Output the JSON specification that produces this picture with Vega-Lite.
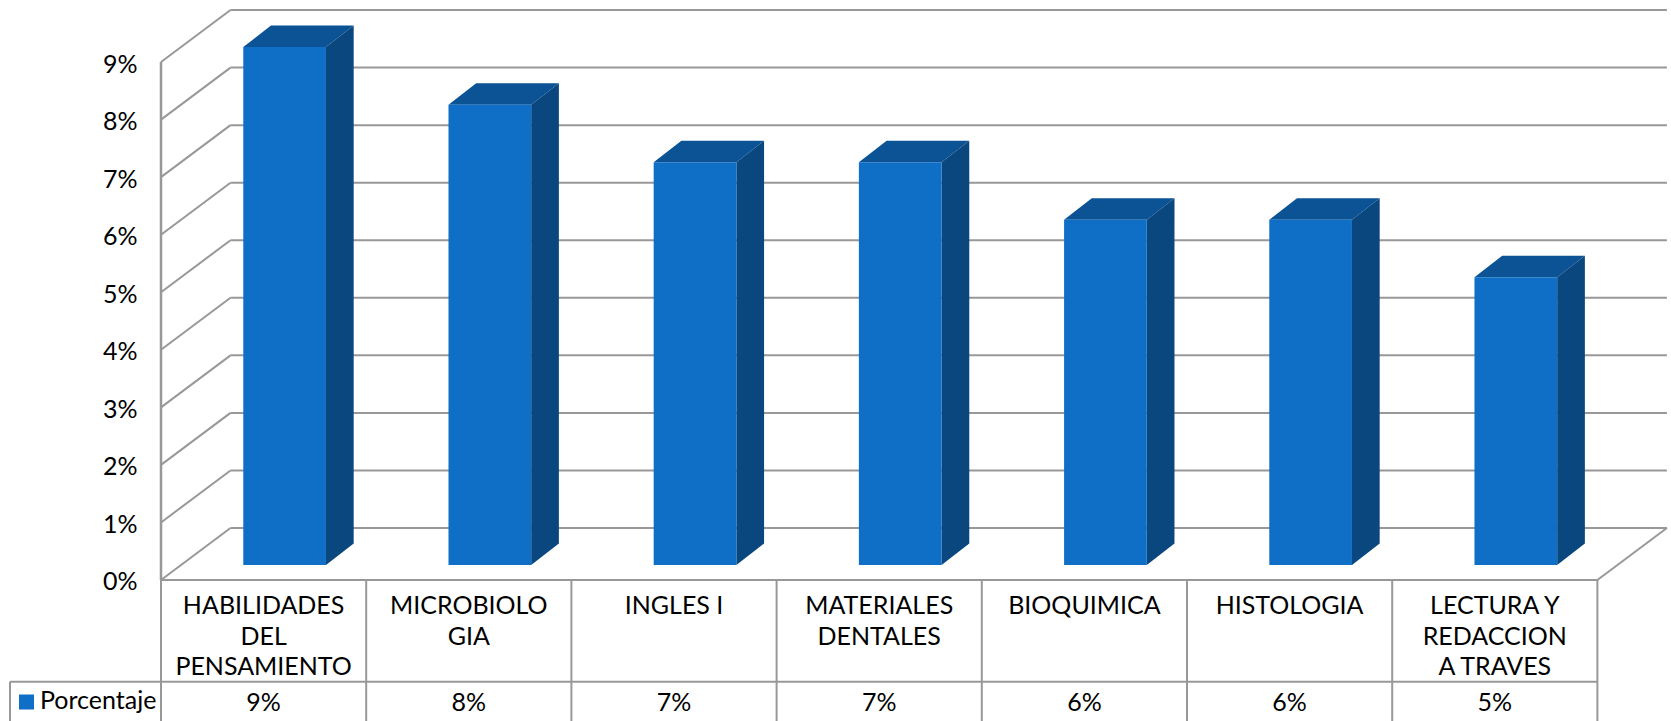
{"$schema":"https://vega.github.io/schema/vega-lite/v6.json","width":1510,"height":721,"autosize":{"type":"none"},"padding":{"left":161,"top":0,"right":0,"bottom":0},"background":"white","config":{"view":{"stroke":null},"font":"Lato"},
"resolve":{"axis":{"y":"independent","x":"independent"}},
"datasets":{"ticks":[{"tick":0},{"tick":0.01},{"tick":0.02},{"tick":0.03},{"tick":0.04},{"tick":0.05},{"tick":0.06},{"tick":0.07},{"tick":0.08},{"tick":0.09}],
"bars":[{"i":0,"categoria":"HABILIDADES\nDEL\nPENSAMIENTO","porcentaje":0.09},{"i":1,"categoria":"MICROBIOLO\nGIA","porcentaje":0.08},{"i":2,"categoria":"INGLES I","porcentaje":0.07},{"i":3,"categoria":"MATERIALES\nDENTALES","porcentaje":0.07},{"i":4,"categoria":"BIOQUIMICA","porcentaje":0.06},{"i":5,"categoria":"HISTOLOGIA","porcentaje":0.06},{"i":6,"categoria":"LECTURA Y\nREDACCION\nA TRAVES","porcentaje":0.05}],
"cols":[{"k":0},{"k":1},{"k":2},{"k":3},{"k":4},{"k":5},{"k":6},{"k":7}]},
"layer":[
{"data":{"name":"ticks"},"transform":[{"calculate":"datum.tick+0.009036","as":"tb"}],"mark":{"type":"rule","color":"#989898","strokeWidth":2},"encoding":{"x":{"datum":0,"type":"quantitative","scale":{"domain":[0,7.3587],"nice":false,"zero":false},"axis":null},"x2":{"datum":0.3387},"y":{"field":"tick","type":"quantitative","scale":{"domain":[-0.0245,0.10078],"nice":false,"zero":false},"axis":{"values":[0,0.01,0.02,0.03,0.04,0.05,0.06,0.07,0.08,0.09],"format":".0%","title":null,"domain":false,"ticks":false,"grid":false,"labelPadding":24,"labelOffset":2,"labelFontSize":25,"labelColor":"#000000","labelFont":"Lato"}},"y2":{"field":"tb"}}},
{"data":{"name":"ticks"},"transform":[{"calculate":"datum.tick+0.009036","as":"tb"}],"mark":{"type":"rule","color":"#989898","strokeWidth":2},"encoding":{"x":{"datum":0.3387,"type":"quantitative","scale":{"domain":[0,7.3587],"nice":false,"zero":false},"axis":null},"x2":{"datum":7.3387},"y":{"field":"tb","type":"quantitative","scale":{"domain":[-0.0245,0.10078],"nice":false,"zero":false},"axis":null}}},
{"data":{"values":[{"a":1}]},"mark":{"type":"rule","color":"#989898","strokeWidth":2.5},"encoding":{"x":{"datum":0,"type":"quantitative","scale":{"domain":[0,7.3587],"nice":false,"zero":false},"axis":null},"y":{"datum":0.09,"type":"quantitative","scale":{"domain":[-0.0245,0.10078],"nice":false,"zero":false},"axis":null},"y2":{"datum":0}}},
{"data":{"name":"cols"},"mark":{"type":"rule","color":"#989898","strokeWidth":2},"encoding":{"x":{"field":"k","type":"quantitative","scale":{"domain":[0,7.3587],"nice":false,"zero":false},"axis":null},"y":{"datum":0,"type":"quantitative","scale":{"domain":[-0.0245,0.10078],"nice":false,"zero":false},"axis":null},"y2":{"datum":-0.0245}}},
{"data":{"values":[{"a":-0.736,"b":7,"v":-0.01767},{"a":0,"b":7,"v":0}]},"mark":{"type":"rule","color":"#989898","strokeWidth":2},"encoding":{"x":{"field":"a","type":"quantitative","scale":{"domain":[0,7.3587],"nice":false,"zero":false},"axis":null},"x2":{"field":"b"},"y":{"field":"v","type":"quantitative","scale":{"domain":[-0.0245,0.10078],"nice":false,"zero":false},"axis":null}}},
{"data":{"values":[{"a":1}]},"mark":{"type":"rule","color":"#989898","strokeWidth":2},"encoding":{"x":{"datum":-0.736,"type":"quantitative","scale":{"domain":[0,7.3587],"nice":false,"zero":false},"axis":null},"y":{"datum":-0.01767,"type":"quantitative","scale":{"domain":[-0.0245,0.10078],"nice":false,"zero":false},"axis":null},"y2":{"datum":-0.0245}}},
{"data":{"values":[{"a":1}]},"mark":{"type":"rule","color":"#989898","strokeWidth":2},"encoding":{"x":{"datum":7,"type":"quantitative","scale":{"domain":[0,7.3587],"nice":false,"zero":false},"axis":null},"x2":{"datum":7.3387},"y":{"datum":0,"type":"quantitative","scale":{"domain":[-0.0245,0.10078],"nice":false,"zero":false},"axis":null},"y2":{"datum":0.009036}}},
{"data":{"name":"bars"},"transform":[{"calculate":"[0,1]","as":"t"},{"flatten":["t"]},{"calculate":"datum.i+0.401+datum.t*0.135","as":"xa"},{"calculate":"datum.i+0.804+datum.t*0.135","as":"xb"},{"calculate":"datum.porcentaje+0.0026+datum.t*0.003736","as":"yt"}],"mark":{"type":"area","orient":"horizontal","color":"#0B5394","opacity":1},"encoding":{"y":{"field":"yt","type":"quantitative","scale":{"domain":[-0.0245,0.10078],"nice":false,"zero":false},"axis":null},"x":{"field":"xa","type":"quantitative","scale":{"domain":[0,7.3587],"nice":false,"zero":false},"axis":null},"x2":{"field":"xb"},"detail":{"field":"i"}}},
{"data":{"name":"bars"},"transform":[{"calculate":"[0,1]","as":"t"},{"flatten":["t"]},{"calculate":"datum.i+0.804+datum.t*0.135","as":"xs"},{"calculate":"datum.porcentaje+0.0026+datum.t*0.003736","as":"yt"},{"calculate":"0.0026+datum.t*0.003736","as":"yb"}],"mark":{"type":"area","orient":"vertical","color":"#0A477F","opacity":1},"encoding":{"x":{"field":"xs","type":"quantitative","scale":{"domain":[0,7.3587],"nice":false,"zero":false},"axis":null},"y":{"field":"yt","type":"quantitative","scale":{"domain":[-0.0245,0.10078],"nice":false,"zero":false},"axis":null},"y2":{"field":"yb"},"detail":{"field":"i"}}},
{"data":{"name":"bars"},"transform":[{"calculate":"datum.i+0.401","as":"xa"},{"calculate":"datum.i+0.804","as":"xb"},{"calculate":"datum.porcentaje+0.0026","as":"yt"}],"mark":{"type":"rect","color":"#0F6FC6"},"encoding":{"x":{"field":"xa","type":"quantitative","scale":{"domain":[0,7.3587],"nice":false,"zero":false},"axis":null},"x2":{"field":"xb"},"y":{"field":"yt","type":"quantitative","scale":{"domain":[-0.0245,0.10078],"nice":false,"zero":false},"axis":null},"y2":{"datum":0.0026}}},
{"data":{"name":"bars"},"transform":[{"calculate":"datum.i+0.5","as":"xc"}],"mark":{"type":"text","align":"center","baseline":"alphabetic","lineBreak":"\n","lineHeight":30.5,"fontSize":25,"color":"#000000"},"encoding":{"x":{"field":"xc","type":"quantitative","scale":{"domain":[0,7.3587],"nice":false,"zero":false},"axis":null},"y":{"datum":-0.00596,"type":"quantitative","scale":{"domain":[-0.0245,0.10078],"nice":false,"zero":false},"axis":null},"text":{"field":"categoria"}}},
{"data":{"name":"bars"},"transform":[{"calculate":"datum.i+0.5","as":"xc"}],"mark":{"type":"text","align":"center","baseline":"alphabetic","fontSize":25,"color":"#000000"},"encoding":{"x":{"field":"xc","type":"quantitative","scale":{"domain":[0,7.3587],"nice":false,"zero":false},"axis":null},"y":{"datum":-0.0227,"type":"quantitative","scale":{"domain":[-0.0245,0.10078],"nice":false,"zero":false},"axis":null},"text":{"field":"porcentaje","format":".0%"}}},
{"data":{"values":[{"serie":"Porcentaje"}]},"mark":{"type":"point","shape":"square","filled":true,"size":225,"color":"#0F6FC6","opacity":1},"encoding":{"x":{"datum":-0.6555,"type":"quantitative","scale":{"domain":[0,7.3587],"nice":false,"zero":false},"axis":null},"y":{"datum":-0.0212,"type":"quantitative","scale":{"domain":[-0.0245,0.10078],"nice":false,"zero":false},"axis":null}}},
{"data":{"values":[{"serie":"Porcentaje"}]},"mark":{"type":"text","align":"left","baseline":"alphabetic","fontSize":25,"color":"#000000"},"encoding":{"x":{"datum":-0.5897,"type":"quantitative","scale":{"domain":[0,7.3587],"nice":false,"zero":false},"axis":null},"y":{"datum":-0.02242,"type":"quantitative","scale":{"domain":[-0.0245,0.10078],"nice":false,"zero":false},"axis":null},"text":{"field":"serie"}}}
]}
